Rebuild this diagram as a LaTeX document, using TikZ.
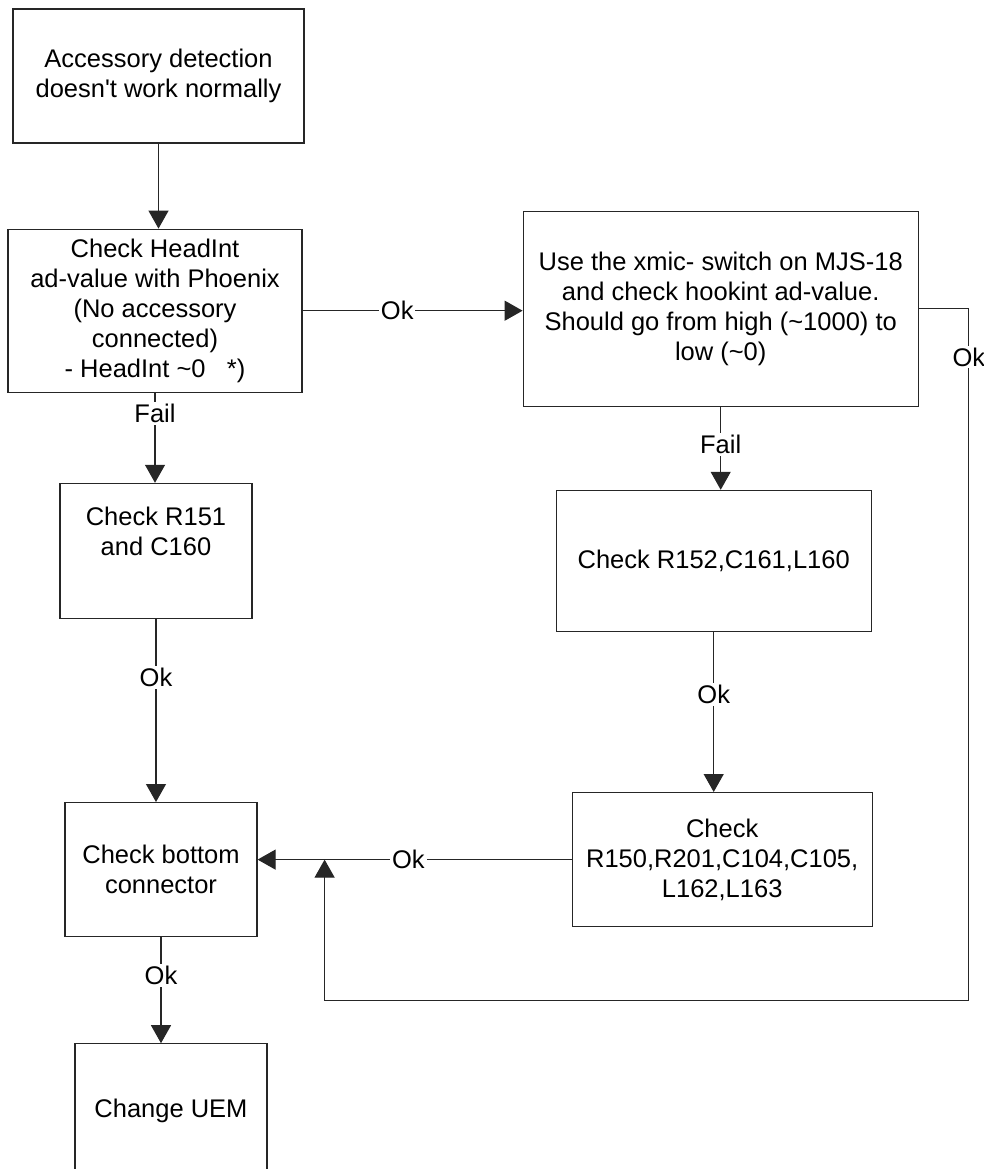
\documentclass[tikz,border=0pt]{standalone}
\usepackage{fontspec}
\setmainfont{Liberation Sans}
\usetikzlibrary{arrows.meta}
\usetikzlibrary{positioning,calc}
\tikzset{box/.style={rectangle,draw=black!85,line width=1.2pt,inner sep=0pt,
		align=center,font=\fontsize{25.5}{30}\selectfont},
		Dedge/.style={-{Triangle[length=18pt,width=20pt]},line width=1.2pt,draw=black!85},
		edgeLabel/.style={fill=white,inner sep=2pt,font=\fontsize{25.5}{30}\selectfont}}

\begin{document}
\begin{tikzpicture}[x=1pt,y=1pt]
	\useasboundingbox (0,0) rectangle (983,-1169);
	\node [box, minimum width=291pt, minimum height=134pt] (start) at (158.5,-76) {Accessory detection\\doesn\textquotesingle t work normally};
	\node [box, minimum width=294pt, minimum height=163pt, below=85pt of start, xshift=-3.5pt] (headInt) {Check HeadInt\\ad-value with Phoenix\\(No accessory\\connected)\\- HeadInt \textasciitilde0\ \ \ *)};
	\node [box, minimum width=395pt, minimum height=195pt, right=220pt of headInt, yshift=2pt] (xmic) {Use the xmic- switch on MJS-18\\and check hookint ad-value.\\Should go from high (\textasciitilde1000) to\\low (\textasciitilde0)};
	\node [box, minimum width=192pt, minimum height=135pt, below=90pt of headInt, xshift=1pt] (r151) {Check R151\\and C160\\\strut};
	\node [box, minimum width=315pt, minimum height=141pt, below=83pt of xmic, xshift=-7pt] (r152) {Check R152,C161,L160};
	\node [box, minimum width=300pt, minimum height=134pt, below=160pt of r152, xshift=8.5pt] (r150) {Check\\R150,R201,C104,C105,\\L162,L163};
	\node [box, minimum width=192pt, minimum height=134pt, below=183pt of r151, xshift=5pt] (conn) {Check bottom\\connector};
	\node [box, minimum width=192pt, minimum height=134pt, below=106pt of conn, xshift=10pt] (uem) {Change UEM};
	% loop corners
	\coordinate (loopE) at ($(xmic.east)+(50,0)$);
	\coordinate (loopS) at ($(loopE |- r150.south)+(0,-73)$);
	\coordinate (join) at ($(conn.east |- r150.west)+(67,0)$);
	%edges
	\draw[Dedge] (start.south) -- (start.south |- headInt.north);
	\draw[Dedge] (headInt.east) -- node[edgeLabel,pos=0.43]{Ok} (headInt.east -| xmic.west);
	\draw[Dedge] (headInt.south) -- node[edgeLabel,pos=0.23]{Fail} (headInt.south |- r151.north);
	\draw[Dedge] (xmic.south) -- node[edgeLabel,pos=0.45]{Fail} (xmic.south |- r152.north);
	\draw[Dedge] (r152.south) -- node[edgeLabel,pos=0.39]{Ok} (r152.south |- r150.north);
	\draw[Dedge] (r151.south) -- node[edgeLabel,pos=0.32]{Ok} (r151.south |- conn.north);
	\draw[Dedge] (r150.west) -- node[edgeLabel,pos=0.52]{Ok} (r150.west -| conn.east);
	\draw[Dedge] (conn.south) -- node[edgeLabel,pos=0.36]{Ok} (conn.south |- uem.north);
	\draw[Dedge] (xmic.east) -- (loopE) -- node[edgeLabel,pos=0.07]{Ok} (loopS) -| (join);
\end{tikzpicture}
\end{document}
